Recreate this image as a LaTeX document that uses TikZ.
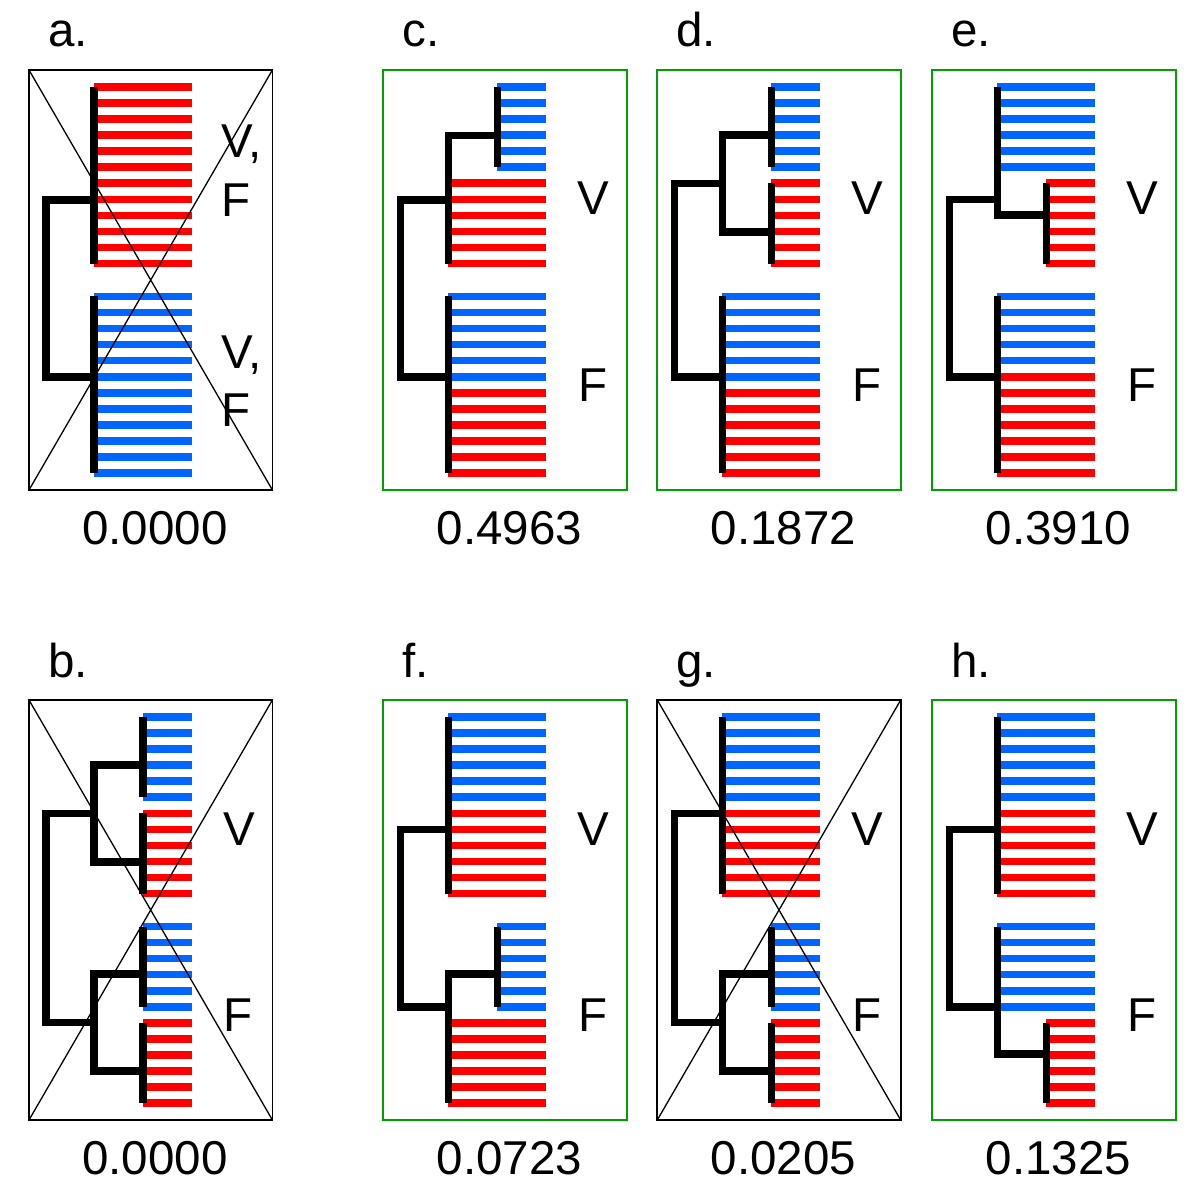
\documentclass[tikz,border=0pt]{standalone}
\usepackage{fontspec}
\setmainfont{Liberation Sans}
\definecolor{barred}{RGB}{255,0,0}
\definecolor{barblue}{RGB}{0,102,255}
\definecolor{boxgreen}{RGB}{0,160,0}
\tikzset{
  phylo/.style={line width=7.4pt, line cap=butt, line join=miter, draw=black},
  barline/.style={line width=7.6pt, line cap=butt},
  okbox/.style={draw=boxgreen, line width=2.3pt},
  badbox/.style={draw=black, line width=1.7pt},
  xline/.style={draw=black, line width=1.3pt},
  txt/.style={inner sep=0pt, outer sep=0pt, font=\fontsize{47.5}{58}\selectfont},
}
% #1 x start, #2 first y, #3 count, #4 colour
\newcommand\stripesat[4]{%
  \foreach \k in {1,...,#3}{\draw[barline,#4] (#1,{#2+16.05*(\k-1)}) -- (162.5,{#2+16.05*(\k-1)});}}
% #1 name, #2 letter, #3 value, #4 box style
\newcommand\panelframe[4]{%
  \node[txt, anchor=base west] (#1-letter) at (19,47) {#2.};
  \node[txt, anchor=base] (#1-value) at (126,544) {#3};
  \draw[#4] (0,70) rectangle (243.4,490);
}
\newcommand\crossout{\draw[xline] (0,70) -- (243.4,490) (0,490) -- (243.4,70);}
\newcommand\VFlabels[1]{%
  \node[txt, anchor=base] (#1-V) at (210,215) {V};
  \node[txt, anchor=base] (#1-F) at (209.5,401.5) {F};
}
\begin{document}
\begin{tikzpicture}[x=1pt,y=-1pt]
\useasboundingbox (0,0) rectangle (1200,1198);

% ---------- panel a ----------
\begin{scope}[shift={(29,0)}]
  \stripesat{65}{87}{12}{barred}
  \stripesat{65}{296.5}{12}{barblue}
  \draw[phylo] (65,87) -- (65,263.55);
  \draw[phylo] (65,296.5) -- (65,473.05);
  \draw[phylo] (65,200) -- (17,200) -- (17,377) -- (65,377);
  \node[txt, anchor=base west] (a-V1) at (192,158) {V,};
  \node[txt, anchor=base west] (a-F1) at (192,216.5) {F};
  \node[txt, anchor=base west] (a-V2) at (192,369) {V,};
  \node[txt, anchor=base west] (a-F2) at (192,426) {F};
  \crossout
  \panelframe{a}{a}{0.0000}{badbox}
\end{scope}

% ---------- panel b ----------
\begin{scope}[shift={(29,630)}]
  \stripesat{114}{87}{6}{barblue}
  \stripesat{114}{183.3}{6}{barred}
  \stripesat{114}{296.5}{6}{barblue}
  \stripesat{114}{392.8}{6}{barred}
  \draw[phylo] (114,87) -- (114,167.25);
  \draw[phylo] (114,183.3) -- (114,263.55);
  \draw[phylo] (114,296.5) -- (114,376.75);
  \draw[phylo] (114,392.8) -- (114,473.05);
  \draw[phylo] (114,135) -- (65,135) -- (65,232) -- (114,232);
  \draw[phylo] (114,344) -- (65,344) -- (65,441) -- (114,441);
  \draw[phylo] (65,183.5) -- (17,183.5) -- (17,392.5) -- (65,392.5);
  \VFlabels{b}
  \crossout
  \panelframe{b}{b}{0.0000}{badbox}
\end{scope}

% ---------- panel c ----------
\begin{scope}[shift={(383.3,0)}]
  \stripesat{114}{87}{6}{barblue}
  \stripesat{65}{183.3}{6}{barred}
  \stripesat{65}{296.5}{6}{barblue}
  \stripesat{65}{392.8}{6}{barred}
  \draw[phylo] (114,87) -- (114,167.25);
  \draw[phylo] (114,135.5) -- (65,135.5) -- (65,263.55);
  \draw[phylo] (65,296.5) -- (65,473.05);
  \draw[phylo] (65,200) -- (17,200) -- (17,377) -- (65,377);
  \VFlabels{c}
  \panelframe{c}{c}{0.4963}{okbox}
\end{scope}

% ---------- panel d ----------
\begin{scope}[shift={(657.3,0)}]
  \stripesat{114}{87}{6}{barblue}
  \stripesat{114}{183.3}{6}{barred}
  \stripesat{65}{296.5}{6}{barblue}
  \stripesat{65}{392.8}{6}{barred}
  \draw[phylo] (114,87) -- (114,167.25);
  \draw[phylo] (114,183.3) -- (114,263.55);
  \draw[phylo] (114,135) -- (65,135) -- (65,232) -- (114,232);
  \draw[phylo] (65,296.5) -- (65,473.05);
  \draw[phylo] (65,183.5) -- (17,183.5) -- (17,377) -- (65,377);
  \VFlabels{d}
  \panelframe{d}{d}{0.1872}{okbox}
\end{scope}

% ---------- panel e ----------
\begin{scope}[shift={(932.3,0)}]
  \stripesat{65}{87}{6}{barblue}
  \stripesat{114}{183.3}{6}{barred}
  \stripesat{65}{296.5}{5}{barblue}
  \stripesat{65}{376.75}{7}{barred}
  \draw[phylo] (65,87) -- (65,215) -- (114,215);
  \draw[phylo] (114,183.3) -- (114,263.55);
  \draw[phylo] (65,296.5) -- (65,473.05);
  \draw[phylo] (65,199.5) -- (17,199.5) -- (17,377) -- (65,377);
  \VFlabels{e}
  \panelframe{e}{e}{0.3910}{okbox}
\end{scope}

% ---------- panel f ----------
\begin{scope}[shift={(383.3,630)}]
  \stripesat{65}{87}{6}{barblue}
  \stripesat{65}{183.3}{6}{barred}
  \stripesat{114}{296.5}{6}{barblue}
  \stripesat{65}{392.8}{6}{barred}
  \draw[phylo] (65,87) -- (65,263.55);
  \draw[phylo] (114,296.5) -- (114,376.75);
  \draw[phylo] (114,344) -- (65,344) -- (65,473.05);
  \draw[phylo] (65,199.5) -- (17,199.5) -- (17,377) -- (65,377);
  \VFlabels{f}
  \panelframe{f}{f}{0.0723}{okbox}
\end{scope}

% ---------- panel g ----------
\begin{scope}[shift={(657.3,630)}]
  \stripesat{65}{87}{6}{barblue}
  \stripesat{65}{183.3}{6}{barred}
  \stripesat{114}{296.5}{6}{barblue}
  \stripesat{114}{392.8}{6}{barred}
  \draw[phylo] (65,87) -- (65,263.55);
  \draw[phylo] (114,296.5) -- (114,376.75);
  \draw[phylo] (114,392.8) -- (114,473.05);
  \draw[phylo] (114,344) -- (65,344) -- (65,441) -- (114,441);
  \draw[phylo] (65,183.5) -- (17,183.5) -- (17,392.5) -- (65,392.5);
  \VFlabels{g}
  \crossout
  \panelframe{g}{g}{0.0205}{badbox}
\end{scope}

% ---------- panel h ----------
\begin{scope}[shift={(932.3,630)}]
  \stripesat{65}{87}{6}{barblue}
  \stripesat{65}{183.3}{6}{barred}
  \stripesat{65}{296.5}{6}{barblue}
  \stripesat{114}{392.8}{6}{barred}
  \draw[phylo] (65,87) -- (65,263.55);
  \draw[phylo] (65,296.5) -- (65,424) -- (114,424);
  \draw[phylo] (114,392.8) -- (114,473.05);
  \draw[phylo] (65,199.5) -- (17,199.5) -- (17,377) -- (65,377);
  \VFlabels{h}
  \panelframe{h}{h}{0.1325}{okbox}
\end{scope}
\end{tikzpicture}
\end{document}
